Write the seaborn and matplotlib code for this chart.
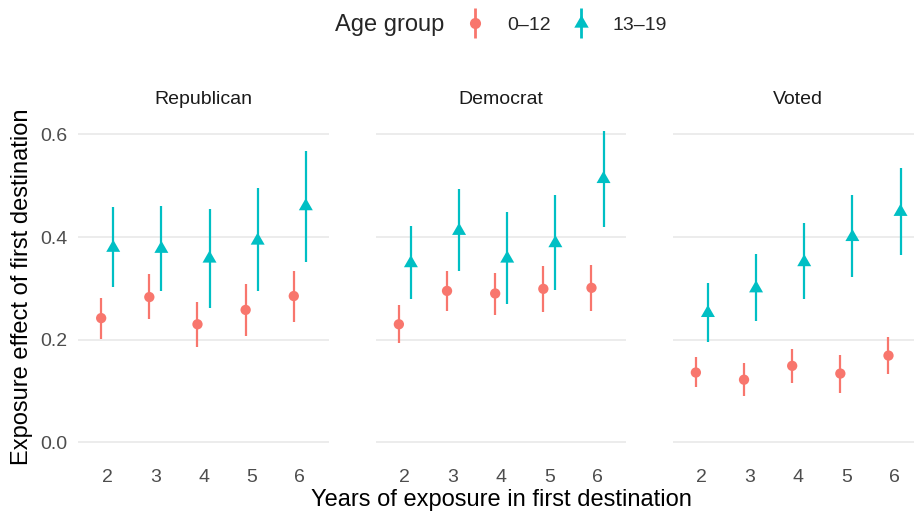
import numpy as np
import pandas as pd
import matplotlib
matplotlib.use("Agg")
import matplotlib.pyplot as plt
from matplotlib.lines import Line2D
from matplotlib.legend_handler import HandlerTuple
import seaborn as sns

# ---------------- data ----------------
years = [2, 3, 4, 5, 6]
panels = ["Republican", "Democrat", "Voted"]
age_groups = ["0–12", "13–19"]

rep_young = [0.242, 0.283, 0.230, 0.258, 0.285]
rep_young_lo = [0.201, 0.240, 0.186, 0.207, 0.235]
rep_young_hi = [0.282, 0.327, 0.273, 0.308, 0.333]
rep_teen = [0.379, 0.377, 0.358, 0.393, 0.460]
rep_teen_lo = [0.303, 0.295, 0.262, 0.294, 0.352]
rep_teen_hi = [0.458, 0.460, 0.454, 0.496, 0.568]

dem_young = [0.230, 0.295, 0.290, 0.299, 0.301]
dem_young_lo = [0.193, 0.255, 0.249, 0.254, 0.256]
dem_young_hi = [0.268, 0.334, 0.330, 0.344, 0.345]
dem_teen = [0.349, 0.412, 0.358, 0.388, 0.513]
dem_teen_lo = [0.279, 0.333, 0.270, 0.297, 0.420]
dem_teen_hi = [0.422, 0.493, 0.448, 0.482, 0.607]

vot_young = [0.136, 0.122, 0.149, 0.134, 0.169]
vot_young_lo = [0.107, 0.091, 0.116, 0.097, 0.133]
vot_young_hi = [0.166, 0.154, 0.182, 0.170, 0.205]
vot_teen = [0.252, 0.300, 0.351, 0.400, 0.449]
vot_teen_lo = [0.196, 0.237, 0.279, 0.323, 0.365]
vot_teen_hi = [0.310, 0.367, 0.427, 0.482, 0.535]

y_ticks = [0.0, 0.2, 0.4, 0.6]
y_tick_labels = ["0.0", "0.2", "0.4", "0.6"]

series = {
    ("Republican", "0–12"): (rep_young, rep_young_lo, rep_young_hi),
    ("Republican", "13–19"): (rep_teen, rep_teen_lo, rep_teen_hi),
    ("Democrat", "0–12"): (dem_young, dem_young_lo, dem_young_hi),
    ("Democrat", "13–19"): (dem_teen, dem_teen_lo, dem_teen_hi),
    ("Voted", "0–12"): (vot_young, vot_young_lo, vot_young_hi),
    ("Voted", "13–19"): (vot_teen, vot_teen_lo, vot_teen_hi),
}

rows = []
for (panel, age), (est, lo, hi) in series.items():
    for yr, e, l, h in zip(years, est, lo, hi):
        rows.append(dict(panel=panel, age=age, year=yr, est=e, lo=l, hi=h))
df = pd.DataFrame(rows)
dodge = {"0–12": -0.125, "13–19": 0.125}
df["xpos"] = df["year"] + df["age"].map(dodge)

# ---------------- style ----------------
sns.set_theme(style="white")
plt.rcParams["font.family"] = ["Liberation Sans", "DejaVu Sans"]

palette = {"0–12": "#F8766D", "13–19": "#00BFC4"}
tri = [(0, 1), (-0.866, -0.5), (0.866, -0.5)]
markers = {"0–12": "o", "13–19": tri}
sizes = {"0–12": 55, "13–19": 135}

W, H = 914, 514
fig = plt.figure(figsize=(W / 100, H / 100), dpi=100)

ymin = min(0, df["lo"].min())
ymax = df["hi"].max()
pad = 0.05 * (ymax - ymin)
ylim = (ymin - pad, ymax + pad)

lefts_px = [78.3, 376.0, 673.0]
pw_px = 250.4
bottom_px = 457.9
ph_px = 342.7

SMALL = 14
BIG = 17

for i, panel in enumerate(panels):
    ax = fig.add_axes([lefts_px[i] / W, (H - bottom_px) / H, pw_px / W, ph_px / H])
    sub = df[df["panel"] == panel]
    for age in age_groups:
        s = sub[sub["age"] == age]
        ax.vlines(s["xpos"], s["lo"], s["hi"], color=palette[age], lw=1.6, zorder=2)
    sns.scatterplot(data=sub, x="xpos", y="est", hue="age", style="age",
                    size="age", sizes=sizes, markers=markers, palette=palette,
                    linewidth=0, ax=ax, legend=False, zorder=3)
    ax.set_xlim(years[0] - 0.6, years[-1] + 0.6)
    ax.set_ylim(*ylim)
    ax.set_xticks(years)
    ax.set_xticklabels([str(y) for y in years])
    ax.set_yticks(y_ticks)
    if i == 0:
        ax.set_yticklabels(y_tick_labels)
    else:
        ax.set_yticklabels([])
    ax.tick_params(axis="both", length=0, labelsize=SMALL, colors="#4D4D4D")
    ax.tick_params(axis="x", pad=8)
    ax.tick_params(axis="y", pad=8)
    ax.grid(axis="y", color="#EBEBEB", lw=1.3)
    ax.grid(axis="x", visible=False)
    ax.set_axisbelow(True)
    for sp in ax.spines.values():
        sp.set_visible(False)
    ax.set_xlabel("")
    ax.set_ylabel("")
    ax.set_facecolor("none")
    ax.set_title(panel, fontsize=SMALL, color="#1A1A1A", pad=8)

fig.text(501 / W, 1 - 500 / H, "Years of exposure in first destination",
         ha="center", va="center", fontsize=BIG, color="black")
fig.text(22 / W, 1 - 287 / H, "Exposure effect of first destination",
         ha="center", va="center", rotation=90, fontsize=BIG, color="black")

# legend
fig.text(390 / W, 1 - 25 / H, "Age group", ha="center", va="center", fontsize=BIG)
handles = []
for age in age_groups:
    vline = Line2D([], [], marker="|", ms=22, mew=2, color=palette[age], ls="")
    pt = Line2D([], [], marker=markers[age], ms=8 if age == "0–12" else 12,
                color=palette[age], ls="", mew=0)
    handles.append((vline, pt))
fig.legend(handles, age_groups, handler_map={tuple: HandlerTuple(ndivide=1, pad=0)},
           loc="center left", bbox_to_anchor=(465 / W, 1 - 25 / H), ncol=2,
           frameon=False, fontsize=SMALL, handlelength=1.0, handletextpad=1.15,
           columnspacing=1.05, borderpad=0, borderaxespad=0)

fig.savefig("out.png", dpi=100)
